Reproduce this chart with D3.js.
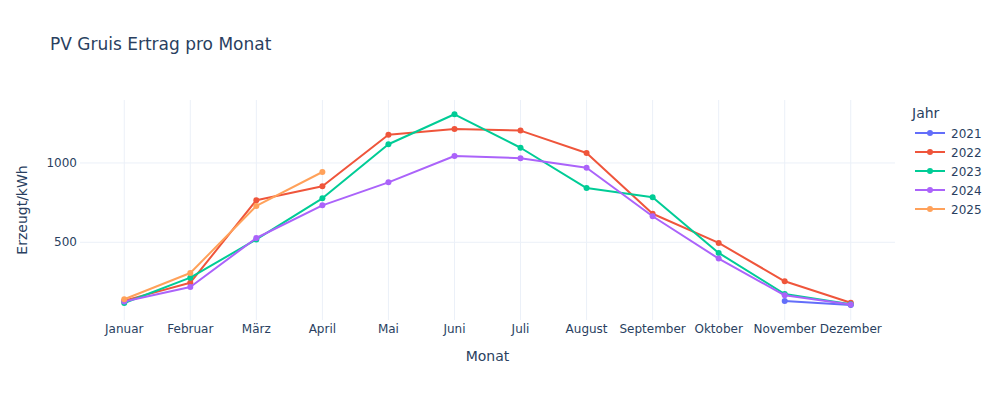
<!DOCTYPE html>
<html><head><meta charset="utf-8">
<script src="https://cdn.jsdelivr.net/npm/d3@7"></script>
<style>body{margin:0;background:#fff}svg{font-family:"DejaVu Sans",verdana,arial,sans-serif}</style>
</head><body><svg id="c" width="1000" height="400"></svg>
<script>
const months = ["Januar","Februar","März","April","Mai","Juni","Juli","August","September","Oktober","November","Dezember"];
const years = ["2021","2022","2023","2024","2025"];
const colors = ["#636efa","#EF553B","#00cc96","#ab63fa","#FFA15A"];
const v2021 = [null,null,null,null,null,null,null,null,null,null,130,105];
const v2022 = [132,245,765,853,1178,1214,1204,1063,680,496,254,119];
const v2023 = [117,277,518,777,1118,1307,1096,842,784,433,174,110];
const v2024 = [126,218,527,733,878,1044,1030,970,664,397,166,108];
const v2025 = [141,306,729,943,null,null,null,null,null,null,null,null];
const yTicks = [500,1000];
const series = [v2021,v2022,v2023,v2024,v2025];

const svg = d3.select("#c");
const L=80,R=895,T=100,B=320;
const x = d3.scaleLinear().domain([-0.67,11.67]).range([L,R]);
const y = d3.scaleLinear().domain([10,1397]).range([B,T]);
const fc = "#2a3f5f", gc = "#ebf0f8";

// grid
svg.append("g").selectAll("line").data(months).join("line")
  .attr("x1",(d,i)=>x(i)).attr("x2",(d,i)=>x(i)).attr("y1",T).attr("y2",B)
  .attr("stroke",gc).attr("stroke-width",1);
svg.append("g").selectAll("line").data(yTicks).join("line")
  .attr("x1",L).attr("x2",R).attr("y1",d=>y(d)).attr("y2",d=>y(d))
  .attr("stroke",gc).attr("stroke-width",1);

// tick labels
svg.append("g").selectAll("text").data(months).join("text")
  .attr("x",(d,i)=>x(i)).attr("y",B+13).attr("text-anchor","middle")
  .attr("fill",fc).attr("font-size",12).text(d=>d);
svg.append("g").selectAll("text").data(yTicks).join("text")
  .attr("x",L-3).attr("y",d=>y(d)+4).attr("text-anchor","end")
  .attr("fill",fc).attr("font-size",12).text(d=>d);

// titles
svg.append("text").attr("x",50).attr("y",50).attr("fill",fc).attr("font-size",17).text("PV Gruis Ertrag pro Monat");
svg.append("text").attr("x",(L+R)/2).attr("y",361).attr("text-anchor","middle").attr("fill",fc).attr("font-size",14).text("Monat");
svg.append("text").attr("transform",`translate(27,${(T+B)/2}) rotate(-90)`).attr("text-anchor","middle").attr("fill",fc).attr("font-size",14).text("Erzeugt/kWh");

// series
const line = d3.line().defined(d=>d.v!=null).x(d=>x(d.i)).y(d=>y(d.v));
series.forEach((s,k)=>{
  const pts = s.map((v,i)=>({v,i}));
  const g = svg.append("g");
  g.append("path").attr("d",line(pts)).attr("fill","none").attr("stroke",colors[k]).attr("stroke-width",2).attr("stroke-linejoin","round");
  g.selectAll("circle").data(pts.filter(d=>d.v!=null)).join("circle")
    .attr("cx",d=>x(d.i)).attr("cy",d=>y(d.v)).attr("r",3).attr("fill",colors[k]);
});

// legend
const lg = svg.append("g");
lg.append("text").attr("x",912).attr("y",118).attr("fill",fc).attr("font-size",14).text("Jahr");
years.forEach((yr,k)=>{
  const yy = 133 + k*19;
  lg.append("line").attr("x1",915).attr("x2",945).attr("y1",yy).attr("y2",yy).attr("stroke",colors[k]).attr("stroke-width",2);
  lg.append("circle").attr("cx",930).attr("cy",yy).attr("r",3).attr("fill",colors[k]);
  lg.append("text").attr("x",951).attr("y",yy+4.5).attr("fill",fc).attr("font-size",12).text(yr);
});
</script></body></html>
